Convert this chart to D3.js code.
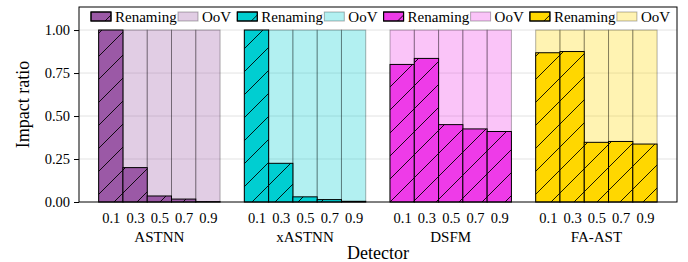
<!DOCTYPE html>
<html>
<head>
<meta charset="utf-8">
<script src="https://cdn.jsdelivr.net/npm/d3@7"></script>
<style>
  body { margin: 0; background: #fff; }
</style>
</head>
<body>
<svg id="chart" width="688" height="262"></svg>
<script>
// data
var detectors = ["ASTNN", "xASTNN", "DSFM", "FA-AST"];
var ratios = ["0.1", "0.3", "0.5", "0.7", "0.9"];
var renamingASTNN = [1.0, 0.20, 0.035, 0.017, 0.002];
var renamingXASTNN = [1.0, 0.225, 0.03, 0.014, 0.004];
var renamingDSFM = [0.80, 0.835, 0.45, 0.425, 0.41];
var renamingFAAST = [0.868, 0.875, 0.347, 0.352, 0.337];
var oovASTNN = [1, 1, 1, 1, 1];
var oovXASTNN = [1, 1, 1, 1, 1];
var oovDSFM = [1, 1, 1, 1, 1];
var oovFAAST = [1, 1, 1, 1, 1];
var colors = ["#9b59a6", "#00ced1", "#ee3be8", "#ffd700"];
var yTicks = [0, 0.25, 0.5, 0.75, 1.0];

var renaming = [renamingASTNN, renamingXASTNN, renamingDSFM, renamingFAAST];
var oov = [oovASTNN, oovXASTNN, oovDSFM, oovFAAST];

var serif = "'Liberation Serif', 'Times New Roman', serif";
var margin = {top: 7, right: 11, bottom: 60, left: 79};
var W = 688, H = 262;
var width = W - margin.left - margin.right,
    height = H - margin.top - margin.bottom;

var svg = d3.select("#chart").style("font-family", serif);

// hatch pattern, like matplotlib '/'
var hs = 23;
var defs = svg.append("defs");
var pat = defs.append("pattern")
  .attr("id", "hatch")
  .attr("patternUnits", "userSpaceOnUse")
  .attr("width", hs).attr("height", hs);
pat.append("path")
  .attr("d", "M0," + hs + "L" + hs + ",0 M-" + hs/2 + "," + hs/2 + "L" + hs/2 + ",-" + hs/2 + " M" + hs/2 + "," + (hs*1.5) + "L" + (hs*1.5) + "," + hs/2)
  .attr("stroke", "#000").attr("stroke-width", 0.9);

var g = svg.append("g").attr("transform", "translate(" + margin.left + "," + margin.top + ")");

// bar positions: 5 bars per detector + one empty slot
var pos = [];
detectors.forEach(function(dn, gi) {
  ratios.forEach(function(r, i) { pos.push({g: gi, i: i, c: gi * 6 + i}); });
});

var x = d3.scaleLinear().domain([-1.31, 23.32]).range([0, width]);
var y = d3.scaleLinear().domain([0, 1.134]).range([height, 0]);
var bw = x(1) - x(0);

// grid
g.append("g").selectAll("line")
  .data(yTicks.slice(1))
  .enter().append("line")
  .attr("x1", 0).attr("x2", width)
  .attr("y1", function(d) { return y(d); }).attr("y2", function(d) { return y(d); })
  .attr("stroke", "#e3e3e3").attr("stroke-width", 1);

// OoV bars (behind)
g.append("g").selectAll("rect")
  .data(pos)
  .enter().append("rect")
  .attr("x", function(d) { return x(d.c - 0.5); })
  .attr("y", function(d) { return y(oov[d.g][d.i]); })
  .attr("width", bw)
  .attr("height", function(d) { return height - y(oov[d.g][d.i]); })
  .attr("fill", function(d) { return colors[d.g]; })
  .attr("fill-opacity", 0.3)
  .attr("stroke", "#000").attr("stroke-opacity", 0.3).attr("stroke-width", 1);

// Renaming bars
var rg = g.append("g").selectAll("g")
  .data(pos)
  .enter().append("g");
rg.append("rect")
  .attr("x", function(d) { return x(d.c - 0.5); })
  .attr("y", function(d) { return y(renaming[d.g][d.i]); })
  .attr("width", bw)
  .attr("height", function(d) { return height - y(renaming[d.g][d.i]); })
  .attr("fill", function(d) { return colors[d.g]; });
rg.append("rect")
  .attr("x", function(d) { return x(d.c - 0.5); })
  .attr("y", function(d) { return y(renaming[d.g][d.i]); })
  .attr("width", bw)
  .attr("height", function(d) { return height - y(renaming[d.g][d.i]); })
  .attr("fill", "url(#hatch)")
  .attr("stroke", "#000").attr("stroke-width", 1);

// y axis
var yAxis = d3.axisLeft(y).tickValues(yTicks).tickFormat(d3.format(".2f")).tickSize(5).tickSizeOuter(0).tickPadding(4);
var ya = g.append("g").call(yAxis).attr("font-family", serif).attr("font-size", null);
ya.select(".domain").remove();
ya.selectAll("text").style("font-family", serif).style("font-size", "14.5px");

// x tick labels per bar
var xAxis = d3.axisBottom(x).tickValues(pos.map(function(d) { return d.c; }))
  .tickFormat(function(v) { return ratios[Math.round(v) % 6]; })
  .tickSize(0).tickPadding(11);
var xa = g.append("g").attr("transform", "translate(0," + height + ")").call(xAxis)
  .attr("font-family", serif).attr("font-size", null);
xa.select(".domain").remove();
xa.selectAll("text").style("font-family", serif).style("font-size", "14.5px");

// detector names
g.append("g").selectAll("text")
  .data(detectors)
  .enter().append("text")
  .attr("x", function(d, i) { return x(i * 6 + 2); })
  .attr("y", height + 40)
  .attr("text-anchor", "middle")
  .style("font-family", serif)
  .style("font-size", "15px")
  .text(function(d) { return d; });

// frame
g.append("rect").attr("width", width).attr("height", height)
  .attr("fill", "none").attr("stroke", "#000").attr("stroke-width", 1);

// axis labels
g.append("text")
  .attr("x", width / 2).attr("y", height + 57)
  .attr("text-anchor", "middle")
  .style("font-family", serif)
  .style("font-size", "18px")
  .text("Detector");
g.append("text")
  .attr("transform", "rotate(-90)")
  .attr("x", -height / 2).attr("y", -50)
  .attr("text-anchor", "middle")
  .style("font-family", serif)
  .style("font-size", "18px")
  .text("Impact ratio");

// legend
var legend = svg.append("g");
var items = [];
detectors.forEach(function(dn, gi) {
  items.push({g: gi, k: "Renaming", off: 0});
  items.push({g: gi, k: "OoV", off: 87});
});
var li = legend.selectAll("g").data(items).enter().append("g")
  .attr("transform", function(d) { return "translate(" + (91 + d.g * 146.3 + d.off) + ",12)"; });
li.append("rect")
  .attr("width", 20).attr("height", 9)
  .attr("fill", function(d) { return colors[d.g]; })
  .attr("fill-opacity", function(d) { return d.k == "OoV" ? 0.3 : 1; })
  .attr("stroke", "#000")
  .attr("stroke-opacity", function(d) { return d.k == "OoV" ? 0.3 : 1; });
li.filter(function(d) { return d.k == "Renaming"; }).append("rect")
  .attr("width", 20).attr("height", 9)
  .attr("fill", "url(#hatch)").attr("stroke", "#000");
li.append("text")
  .attr("x", 24).attr("y", 9.5)
  .style("font-family", serif)
  .style("font-size", "15px")
  .text(function(d) { return d.k; });
</script>
</body>
</html>
